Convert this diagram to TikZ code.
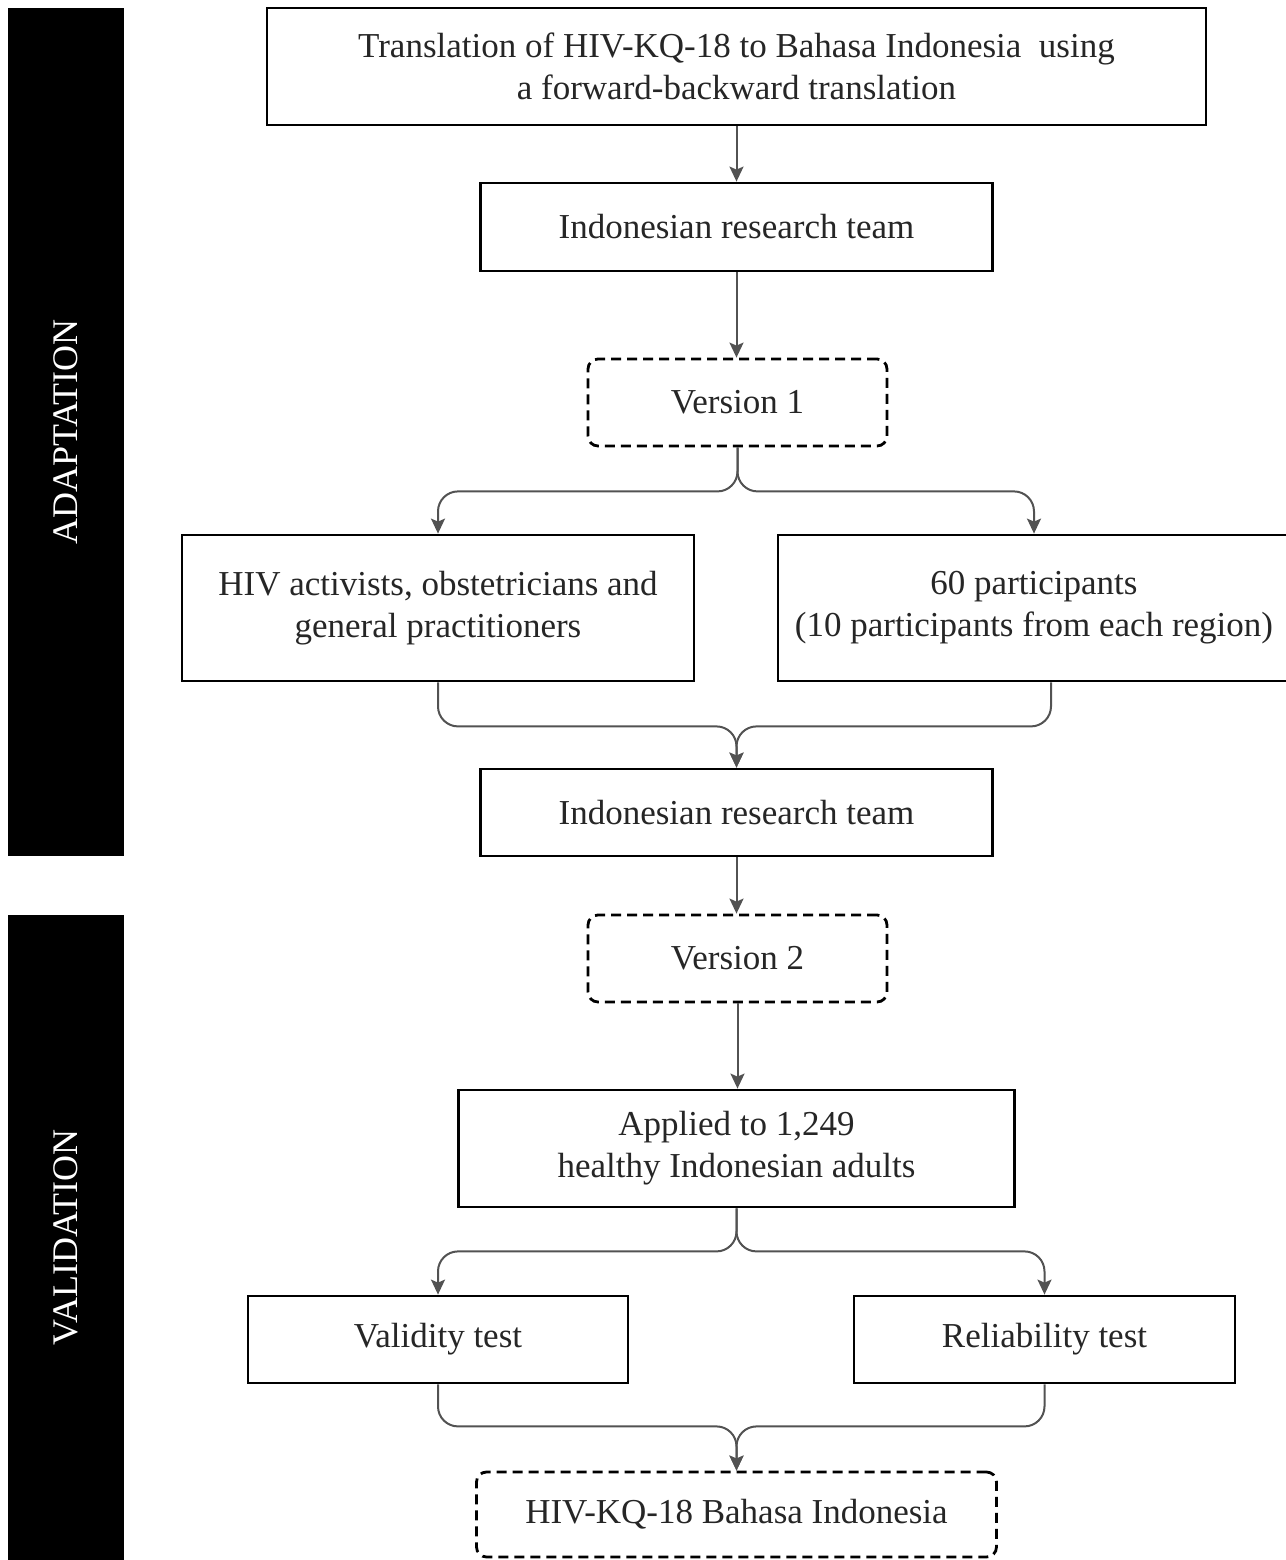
\documentclass[tikz,border=0pt]{standalone}
\usepackage{fontspec}
\setmainfont{Liberation Serif}
\usetikzlibrary{arrows.meta}
\begin{document}
\begin{tikzpicture}[x=0.5pt,y=-0.5pt,font=\fontsize{17.5}{21}\selectfont,
  box/.style={draw=black,line width=1.4pt,fill=white,inner sep=0pt,align=center,text=black!85},
  dashbox/.style={box,rounded corners=5pt,dash pattern=on 5pt off 3pt,line width=1.4pt},
  sidebar/.style={fill=black,text=white,rotate=90,inner sep=0pt,font=\fontsize{18}{21}\selectfont},
  conn/.style={draw=black!68,line width=1pt,rounded corners=10pt,
    -{Stealth[length=7.5pt,width=7pt,inset=1.5pt]}}]
  \useasboundingbox (0,0) rectangle (1286,1560);
  % side bars
  \node[sidebar,minimum width=424pt,minimum height=58pt] (adapt) at (66,432) {ADAPTATION};
  \node[sidebar,minimum width=322.5pt,minimum height=58pt] (valid) at (66,1237.5) {VALIDATION};
  % adaptation
  \node[box,minimum width=469.5pt,minimum height=58.5pt] (trans) at (736.5,66.5)
    {Translation of HIV-KQ-18 to Bahasa Indonesia\ \ using\\a forward-backward translation};
  \node[box,minimum width=256pt,minimum height=44pt] (team1) at (736.5,227) {Indonesian research team};
  \node[dashbox,minimum width=149.5pt,minimum height=43.5pt] (ver1) at (737.5,402.5) {Version 1};
  \node[box,minimum width=256pt,minimum height=73pt] (experts) at (438,608)
    {HIV activists, obstetricians and\\general practitioners};
  \node[box,minimum width=256pt,minimum height=73pt] (partic) at (1034,608)
    {60 participants\\(10 participants from each region)};
  \node[box,minimum width=256pt,minimum height=43.5pt] (team2) at (736.5,812.5) {Indonesian research team};
  % validation
  \node[dashbox,minimum width=149.5pt,minimum height=43.5pt] (ver2) at (737.5,958.5) {Version 2};
  \node[box,minimum width=278pt,minimum height=58.5pt] (applied) at (736.5,1148.5)
    {Applied to 1,249\\healthy Indonesian adults};
  \node[box,minimum width=190pt,minimum height=43.5pt] (validity) at (438,1339.5) {Validity test};
  \node[box,minimum width=190.5pt,minimum height=43.5pt] (reliab) at (1044.5,1339.5) {Reliability test};
  \node[dashbox,minimum width=260pt,minimum height=42.5pt] (final) at (736.5,1514.5) {HIV-KQ-18 Bahasa Indonesia};
  % connectors
  \draw[conn] (trans.south) -- (trans.south |- team1.north);
  \draw[conn] (team1.south) -- (team1.south |- ver1.north);
  \draw[conn] (ver1.south) -- ++(0,44) -| (experts.north);
  \draw[conn] (ver1.south) -- ++(0,44) -| (partic.north);
  \draw[conn] (experts.south) -- ++(0,44) -| (team2.north);
  \draw[conn] ([xshift=8.5pt]partic.south) -- ++(0,44) -| (team2.north);
  \draw[conn] (team2.south) -- (team2.south |- ver2.north);
  \draw[conn] (ver2.south) -- (ver2.south |- applied.north);
  \draw[conn] (applied.south) -- ++(0,43) -| (validity.north);
  \draw[conn] (applied.south) -- ++(0,43) -| (reliab.north);
  \draw[conn] (validity.south) -- ++(0,42) -| (final.north);
  \draw[conn] (reliab.south) -- ++(0,42) -| (final.north);
\end{tikzpicture}
\end{document}
